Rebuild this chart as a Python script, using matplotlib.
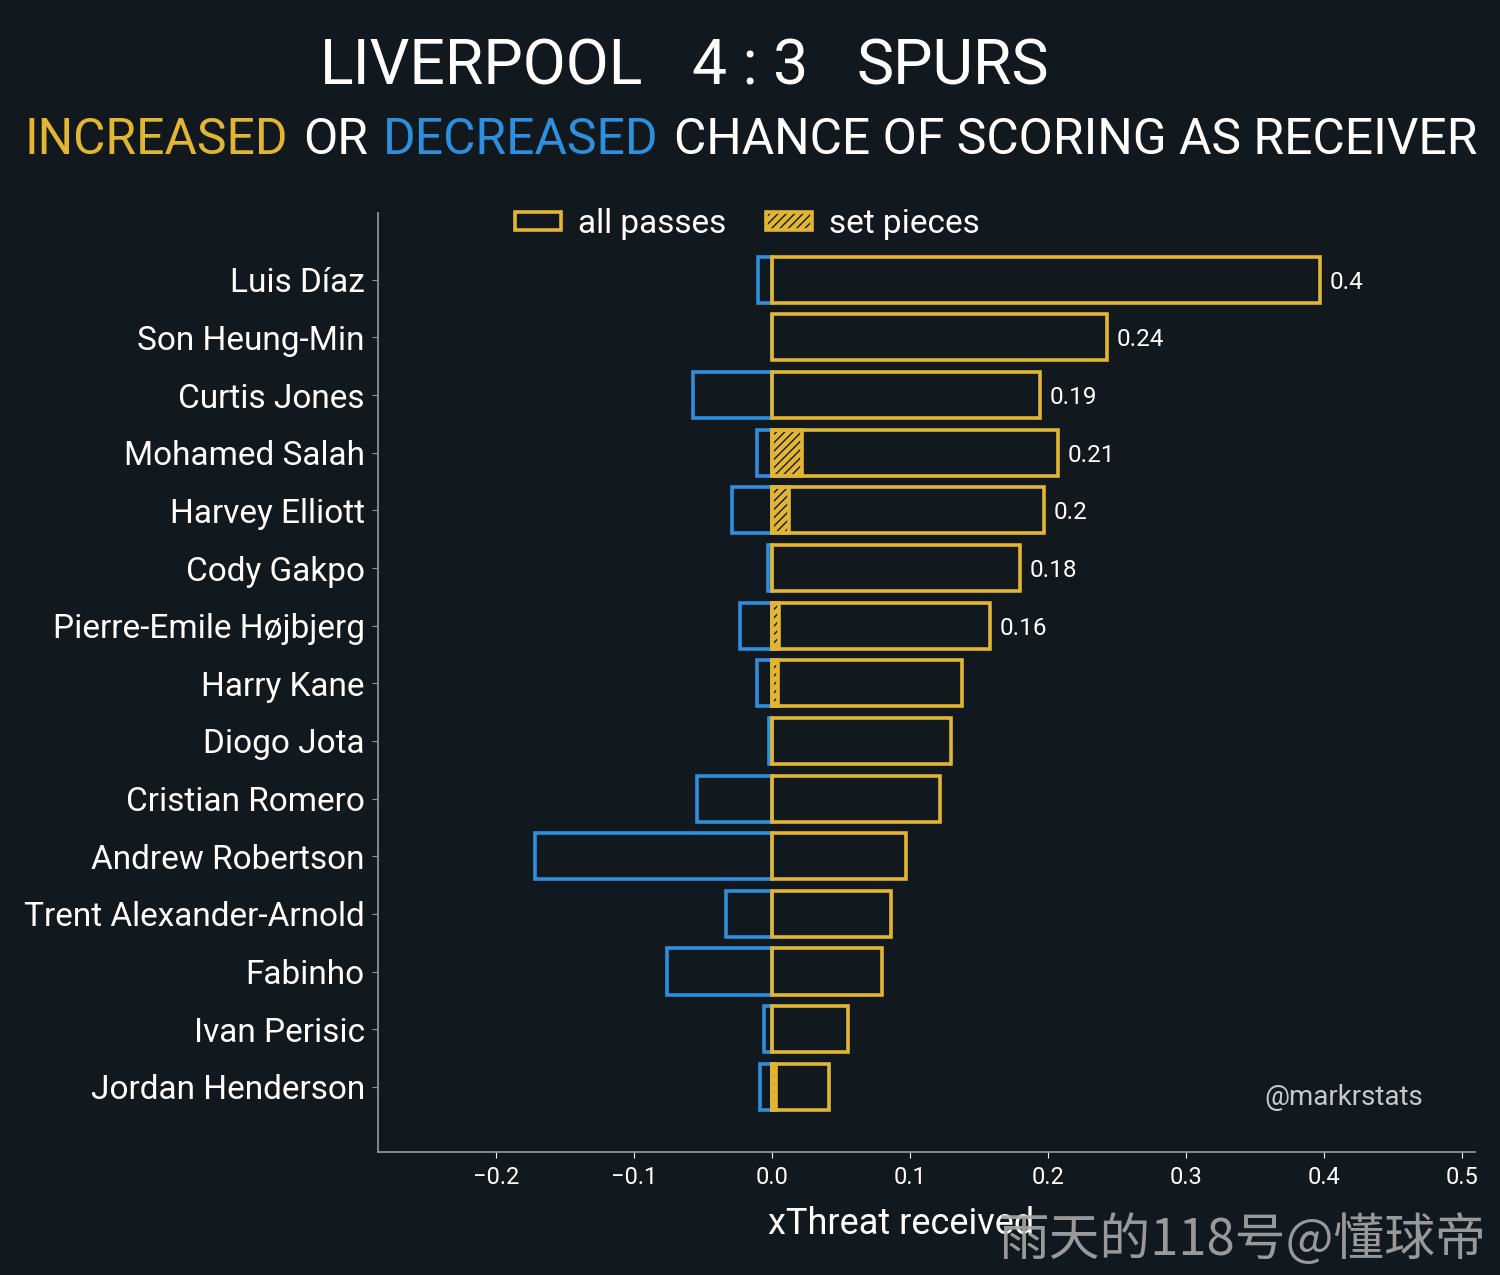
import matplotlib.pyplot as plt
from matplotlib.patches import Patch
import numpy as np

plt.rcParams['font.family'] = ['Roboto', 'DejaVu Sans']

# data (xThreat received, top to bottom)
players = ['Luis Díaz', 'Son Heung-Min', 'Curtis Jones', 'Mohamed Salah', 'Harvey Elliott',
           'Cody Gakpo', 'Pierre-Emile Højbjerg', 'Harry Kane', 'Diogo Jota', 'Cristian Romero',
           'Andrew Robertson', 'Trent Alexander-Arnold', 'Fabinho', 'Ivan Perisic', 'Jordan Henderson']
increased = [0.397, 0.243, 0.194, 0.207, 0.197, 0.180, 0.158, 0.138, 0.130, 0.122,
             0.097, 0.086, 0.080, 0.055, 0.041]
decreased = [-0.010, 0.0, -0.057, -0.011, -0.029, -0.003, -0.023, -0.011, -0.002, -0.054,
             -0.172, -0.033, -0.076, -0.006, -0.009]
set_pieces = [0, 0, 0, 0.022, 0.012, 0, 0.005, 0.004, 0, 0, 0, 0, 0, 0, 0.003]
label_min = 0.15
xticks = [-0.2, -0.1, 0.0, 0.1, 0.2, 0.3, 0.4, 0.5]

bg = '#11181e'
yellow = '#e2b532'
blue = '#2e8fdf'
grey = '#8a9499'
lw = 2.6

fig = plt.figure(figsize=(15, 12.75), dpi=100, facecolor=bg)
ax = fig.add_axes([0.252, 0.0965, 0.731, 0.7365])
ax.set_facecolor(bg)

y = np.arange(len(players))

# blue bars first, yellow on top
ax.barh(y, decreased, height=0.8, fill=False, edgecolor=blue, linewidth=lw)
ax.barh(y, set_pieces, height=0.8, color=yellow, edgecolor=bg, hatch='////', linewidth=0)
sp = np.array(set_pieces)
ax.barh(y[sp > 0], sp[sp > 0], height=0.8, fill=False, edgecolor=yellow, linewidth=lw)
ax.barh(y, increased, height=0.8, fill=False, edgecolor=yellow, linewidth=lw)

for i, v in enumerate(increased):
    if v > label_min:
        ax.text(v + 0.007, i, f'{round(v, 2):g}', va='center_baseline', ha='left',
                color='white', fontsize=17.5)

ax.set_yticks(y)
ax.set_yticklabels(players)
ax.set_xticks(xticks)
ax.set_xlim(-0.2855, 0.509)
ax.set_ylim(len(players) - 1 + 1.13, -1.16)

ax.tick_params(axis='y', colors=grey, labelcolor='white', labelsize=24, length=4.5, pad=5)
ax.tick_params(axis='x', colors='white', labelcolor='white', labelsize=17, length=4, pad=6)
for s in ['top', 'right']:
    ax.spines[s].set_visible(False)
for s in ['left', 'bottom']:
    ax.spines[s].set_color(grey)
    ax.spines[s].set_linewidth(1.3)

ax.set_xlabel('xThreat received', color='white', fontsize=26)
ax.xaxis.set_label_coords(0.477, -0.058)

# legend
h_all = Patch(facecolor='none', edgecolor=yellow, linewidth=lw)
h_set = (Patch(facecolor=yellow, edgecolor=bg, hatch='////', linewidth=0),
         Patch(facecolor='none', edgecolor=yellow, linewidth=lw))
leg = ax.legend([h_all, h_set], ['all passes', 'set pieces'], ncol=2, frameon=False,
                loc='center', bbox_to_anchor=(0.337, 0.988), fontsize=24,
                labelcolor='white', handlelength=1.38, handleheight=0.45,
                handletextpad=0.5, columnspacing=1.2)

# title
fig.text(0.429, 0.947, 'LIVERPOOL', ha='right', va='center', color='white', fontsize=45)
fig.text(0.5, 0.947, '4 : 3', ha='center', va='center', color='white', fontsize=45)
fig.text(0.571, 0.947, 'SPURS', ha='left', va='center', color='white', fontsize=45)

# multicoloured subtitle
parts = [('INCREASED', yellow), ('OR', 'white'), ('DECREASED', blue),
         ('CHANCE OF SCORING AS RECEIVER', 'white')]
renderer = fig.canvas.get_renderer()
gap = 15
texts = []
widths = []
for s, c in parts:
    t = fig.text(0, 0.890, s, ha='left', va='center', color=c, fontsize=35.8)
    texts.append(t)
    widths.append(t.get_window_extent(renderer).width)
total = sum(widths) + gap * (len(parts) - 1)
x0 = 751 - total / 2
for t, w in zip(texts, widths):
    t.set_x(x0 / 1500)
    x0 += w + gap

fig.text(0.949, 0.1396, '@markrstats', ha='right', va='center', color='#c8c8c8', fontsize=20)
fig.text(0.991, 0.027, '雨天的118号@懂球帝', ha='right', va='center', color='#a8a8a8',
         fontsize=36.5, family=['Noto Sans CJK SC', 'DejaVu Sans'], alpha=0.9)

fig.savefig('out.png', facecolor=bg, dpi=100)
